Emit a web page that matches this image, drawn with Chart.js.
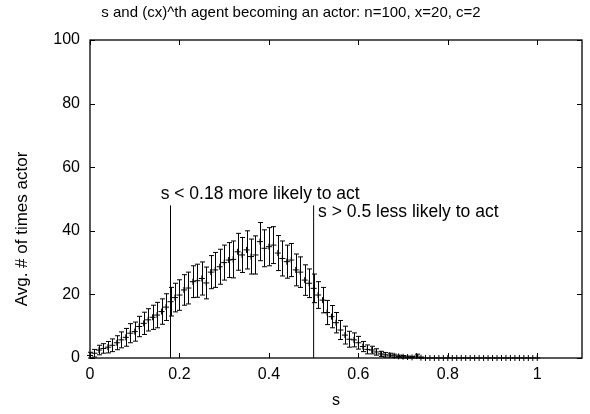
<!DOCTYPE html>
<html lang="en">
<head>
<meta charset="UTF-8">
<title>s and (cx)^th agent becoming an actor</title>
<script src="https://cdn.jsdelivr.net/npm/chart.js"></script>
<style>
  html, body { margin: 0; padding: 0; background: #ffffff; }
  #wrap { width: 590px; height: 414px; }
</style>
</head>
<body>
<div id="wrap"><canvas id="actorChart" width="590" height="414"></canvas></div>
<script>
// DATA
const sValues = [
  0.00, 0.01, 0.02, 0.03, 0.04, 0.05, 0.06, 0.07, 0.08, 0.09,
  0.10, 0.11, 0.12, 0.13, 0.14, 0.15, 0.16, 0.17, 0.18, 0.19,
  0.20, 0.21, 0.22, 0.23, 0.24, 0.25, 0.26, 0.27, 0.28, 0.29,
  0.30, 0.31, 0.32, 0.33, 0.34, 0.35, 0.36, 0.37, 0.38, 0.39,
  0.40, 0.41, 0.42, 0.43, 0.44, 0.45, 0.46, 0.47, 0.48, 0.49,
  0.50, 0.51, 0.52, 0.53, 0.54, 0.55, 0.56, 0.57, 0.58, 0.59,
  0.60, 0.61, 0.62, 0.63, 0.64, 0.65, 0.66, 0.67, 0.68, 0.69,
  0.70, 0.71, 0.72, 0.73, 0.74, 0.75, 0.76, 0.77, 0.78, 0.79,
  0.80, 0.81, 0.82, 0.83, 0.84, 0.85, 0.86, 0.87, 0.88, 0.89,
  0.90, 0.91, 0.92, 0.93, 0.94, 0.95, 0.96, 0.97, 0.98, 0.99,
  1.00
];
const avgActor = [
  0.8, 1.5, 2.5, 3.0, 3.4, 4.0, 4.8, 5.7, 6.5, 7.8,
  8.3, 9.9, 10.9, 12.0, 12.8, 13.5, 14.6, 16.0, 17.7, 19.0,
  19.8, 21.4, 22.0, 24.0, 24.3, 25.0, 23.6, 27.0, 27.7, 28.7,
  30.0, 30.8, 31.0, 33.4, 32.4, 34.0, 31.9, 32.4, 36.6, 34.5,
  35.0, 35.5, 33.0, 31.3, 30.3, 30.8, 27.7, 27.0, 24.5, 23.5,
  21.9, 19.8, 18.2, 14.3, 13.0, 11.1, 8.8, 7.2, 5.9, 5.7,
  4.8, 3.6, 2.7, 2.5, 1.9, 1.3, 1.0, 0.9, 0.7, 0.5,
  0.4, 0.3, 0.2, 0.6, 0.1, 0, 0, 0, 0, 0,
  0, 0, 0, 0, 0, 0, 0, 0, 0, 0,
  0, 0, 0, 0, 0, 0, 0, 0, 0, 0,
  0
];
const errActor = [
  1.0, 1.2, 1.5, 1.5, 1.8, 2.0, 2.2, 2.5, 2.8, 3.0,
  3.0, 3.2, 3.5, 3.5, 3.8, 4.0, 4.0, 4.2, 4.5, 4.5,
  4.8, 4.8, 5.0, 5.0, 5.2, 5.2, 5.0, 5.2, 5.5, 5.5,
  5.5, 5.5, 5.8, 5.8, 5.5, 6.0, 5.5, 6.0, 6.0, 5.8,
  6.0, 5.8, 5.5, 5.5, 5.2, 5.2, 5.0, 4.8, 4.8, 4.5,
  4.5, 4.2, 4.0, 3.8, 3.5, 3.2, 3.0, 2.8, 2.5, 2.2,
  2.0, 1.6, 1.4, 1.2, 1.0, 0.8, 0.7, 0.6, 0.5, 0.4,
  0.4, 0.3, 0.3, 0.6, 0.2, 0, 0, 0, 0, 0,
  0, 0, 0, 0, 0, 0, 0, 0, 0, 0,
  0, 0, 0, 0, 0, 0, 0, 0, 0, 0,
  0
];
const xTicks = [0, 0.2, 0.4, 0.6, 0.8, 1];
const yTicks = [0, 20, 40, 60, 80, 100];
const cutoffS = [0.18, 0.5];
const cutoffTop = 48;
const noteTexts = ['s < 0.18 more likely to act', 's > 0.5 less likely to act'];
const noteS = [0.158, 0.51];
const noteY = [51.6, 45.8];

const FONT = '"Liberation Sans", Arial, Helvetica, sans-serif';

// gnuplot look: boxed frame, inward ticks, error bars, labels
const gnuplotFrame = {
  id: 'gnuplotFrame',
  afterDatasetsDraw(chart) {
    const { ctx, chartArea: a, scales: { x, y } } = chart;
    ctx.save();

    // error bars
    ctx.strokeStyle = '#000';
    ctx.lineWidth = 1;
    ctx.beginPath();
    sValues.forEach((s, i) => {
      if (!errActor[i]) return;
      const px = Math.round(x.getPixelForValue(s)) + 0.5;
      const top = y.getPixelForValue(avgActor[i] + errActor[i]);
      const bot = y.getPixelForValue(Math.max(0, avgActor[i] - errActor[i]));
      ctx.moveTo(px, top); ctx.lineTo(px, bot);
      ctx.moveTo(px - 2.5, top); ctx.lineTo(px + 2.5, top);
      ctx.moveTo(px - 2.5, bot); ctx.lineTo(px + 2.5, bot);
    });
    ctx.stroke();

    // frame + inward ticks on all four sides
    ctx.lineWidth = 1.3;
    ctx.strokeRect(a.left, a.top, a.right - a.left, a.bottom - a.top);
    ctx.lineWidth = 1;
    ctx.beginPath();
    xTicks.forEach(v => {
      const px = Math.round(x.getPixelForValue(v)) + 0.5;
      ctx.moveTo(px, a.bottom); ctx.lineTo(px, a.bottom - 5);
      ctx.moveTo(px, a.top); ctx.lineTo(px, a.top + 5);
    });
    yTicks.forEach(v => {
      const py = Math.round(y.getPixelForValue(v)) + 0.5;
      ctx.moveTo(a.left, py); ctx.lineTo(a.left + 5, py);
      ctx.moveTo(a.right, py); ctx.lineTo(a.right - 5, py);
    });
    ctx.stroke();

    // annotations
    ctx.fillStyle = '#000';
    ctx.font = '17.5px ' + FONT;
    ctx.textAlign = 'left';
    ctx.textBaseline = 'middle';
    noteTexts.forEach((t, i) => {
      ctx.fillText(t, x.getPixelForValue(noteS[i]), y.getPixelForValue(noteY[i]));
    });

    // y axis title (sits a bit below the plot centre in the original)
    ctx.font = '17px ' + FONT;
    ctx.translate(22, 229);
    ctx.rotate(-Math.PI / 2);
    ctx.textAlign = 'center';
    ctx.fillText('Avg. # of times actor', 0, 0);
    ctx.restore();
  }
};

const points = sValues.map((s, i) => ({ x: s, y: avgActor[i] }));
const cutoffSets = cutoffS.map(s => ({
  type: 'line',
  data: [{ x: s, y: 0 }, { x: s, y: cutoffTop }],
  borderColor: '#000',
  borderWidth: 1,
  pointRadius: 0,
  fill: false
}));

const ctx = document.getElementById('actorChart').getContext('2d');
new Chart(ctx, {
  type: 'scatter',
  data: {
    datasets: [
      {
        data: points,
        pointStyle: 'cross',
        pointRadius: 3,
        borderColor: '#000',
        borderWidth: 1,
        showLine: false,
        clip: false
      },
      ...cutoffSets
    ]
  },
  options: {
    responsive: false,
    animation: false,
    layout: { padding: { right: 8 } },
    plugins: {
      legend: { display: false },
      tooltip: { enabled: false },
      title: {
        display: true,
        text: 's and (cx)^th agent becoming an actor: n=100, x=20, c=2',
        color: '#000',
        font: { family: FONT, size: 15, weight: 'normal' },
        padding: { top: 4, bottom: 18 }
      }
    },
    scales: {
      x: {
        type: 'linear',
        min: 0,
        max: 1.1,
        afterBuildTicks: sc => { sc.ticks = xTicks.map(v => ({ value: v })); },
        afterFit: sc => { sc.height = 56; },
        grid: { display: false, drawTicks: false },
        border: { display: false },
        ticks: { color: '#000', padding: 7, font: { family: FONT, size: 16 }, callback: v => String(v) },
        title: { display: true, text: 's', color: '#000', font: { family: FONT, size: 16 }, padding: { top: 0, bottom: 4 } }
      },
      y: {
        type: 'linear',
        min: 0,
        max: 100,
        afterBuildTicks: sc => { sc.ticks = yTicks.map(v => ({ value: v })); },
        afterFit: sc => { sc.width = 90; },
        grid: { display: false, drawTicks: false },
        border: { display: false },
        ticks: { color: '#000', padding: 10, font: { family: FONT, size: 16 } }
      }
    }
  },
  plugins: [gnuplotFrame]
});
</script>
</body>
</html>
